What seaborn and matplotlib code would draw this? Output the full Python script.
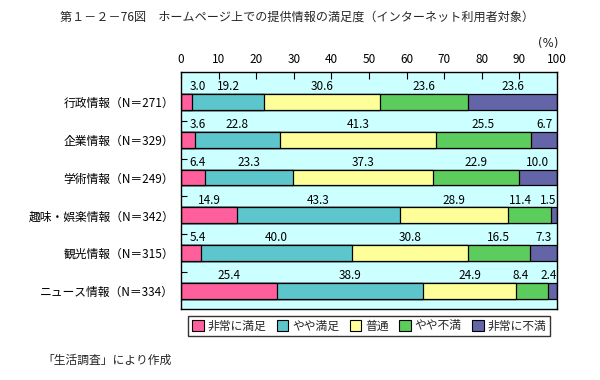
import numpy as np
import pandas as pd
import matplotlib
matplotlib.use("Agg")
import matplotlib.pyplot as plt
import seaborn as sns
from matplotlib.patches import Patch

sns.set_theme(style="white")
plt.rcParams['font.family'] = ['Noto Sans CJK JP', 'DejaVu Sans']

title = "第１－２－76図　ホームページ上での提供情報の満足度（インターネット利用者対象）"
categories = ["行政情報（N＝271）", "企業情報（N＝329）", "学術情報（N＝249）",
              "趣味・娯楽情報（N＝342）", "観光情報（N＝315）", "ニュース情報（N＝334）"]
series = ["非常に満足", "やや満足", "普通", "やや不満", "非常に不満"]
very_satisfied = [3.0, 3.6, 6.4, 14.9, 5.4, 25.4]
somewhat_satisfied = [19.2, 22.8, 23.3, 43.3, 40.0, 38.9]
neutral = [30.6, 41.3, 37.3, 28.9, 30.8, 24.9]
somewhat_dissatisfied = [23.6, 25.5, 22.9, 11.4, 16.5, 8.4]
very_dissatisfied = [23.6, 6.7, 10.0, 1.5, 7.3, 2.4]
x_ticks = [0, 10, 20, 30, 40, 50, 60, 70, 80, 90, 100]
footer = "「生活調査」により作成"

colors = ["#ff5f9c", "#5cc6cc", "#ffff99", "#5ccc5c", "#6464a8"]

values = np.array([very_satisfied, somewhat_satisfied, neutral,
                   somewhat_dissatisfied, very_dissatisfied])
cum = np.cumsum(values, axis=0)

fig = plt.figure(figsize=(6, 3.8), dpi=100)
ax = fig.add_axes([181 / 600, 1 - 309 / 380, 376 / 600, 237 / 380])
ax.set_facecolor("#ccffff")

# stacked bars: draw cumulative totals from largest to smallest
for k in range(len(series) - 1, -1, -1):
    df = pd.DataFrame({"cat": categories, "val": cum[k]})
    sns.barplot(data=df, x="val", y="cat", orient="h", color=colors[k],
                saturation=1, width=0.42, edgecolor="black", linewidth=0.9,
                ax=ax, zorder=2)

ax.set_xlim(0, 100)
ax.set_ylim(5.48, -0.79)
ax.set_xlabel("")
ax.set_ylabel("")

# x axis on top
ax.xaxis.set_ticks_position("top")
ax.xaxis.set_label_position("top")
ax.set_xticks(x_ticks)
ax.set_xticklabels([str(t) for t in x_ticks], fontsize=8.5, color="black")
ax.tick_params(axis="x", direction="in", length=5, width=0.8, color="black", pad=4, top=True, bottom=False)
ax.set_yticks(range(len(categories)))
ax.set_yticklabels(categories, fontsize=8.5, color="black")
ax.tick_params(axis="y", length=0, pad=5)
ax.set_yticks([i + 0.5 for i in range(len(categories) - 1)], minor=True)
ax.tick_params(axis="y", which="minor", direction="in", length=4, width=0.8, color="black", left=True)
for s in ax.spines.values():
    s.set_color("black")
    s.set_linewidth(1.0)

# value labels
gap = 7.5
for i in range(len(categories)):
    vals = values[:, i]
    left = np.concatenate([[0], cum[:-1, i]])
    pos = left + vals / 2
    pos = np.clip(pos, 4.5, 97.7)
    # resolve overlaps: push right from left, then left from right
    for j in range(1, len(pos)):
        if pos[j] - pos[j - 1] < gap:
            pos[j] = pos[j - 1] + gap
    pos[-1] = min(pos[-1], 97.7)
    for j in range(len(pos) - 2, -1, -1):
        if pos[j + 1] - pos[j] < gap:
            pos[j] = pos[j + 1] - gap
    for j in range(len(pos)):
        ax.text(pos[j], i - 0.40, f"{vals[j]:.1f}", ha="center", va="center",
                fontsize=8.5, color="black", zorder=3)

fig.text(60 / 600, 1 - 17 / 380, title, fontsize=8.7, ha="left", va="center")
fig.text(548 / 600, 1 - 44 / 380, "(%)", fontsize=8.5, ha="center", va="center",
         family=["DejaVu Sans"])
fig.text(42 / 600, 1 - 360 / 380, footer, fontsize=8.5, ha="left", va="center")

handles = [Patch(facecolor=c, edgecolor="black", linewidth=0.8) for c in colors]
leg = fig.legend(handles, series, loc="center", bbox_to_anchor=(369 / 600, 1 - 326 / 380),
                 ncol=5, fontsize=8.5, frameon=True, fancybox=False, edgecolor="black",
                 handlelength=1.0, handleheight=1.0, handletextpad=0.3, columnspacing=0.9,
                 borderpad=0.3, borderaxespad=0)
leg.get_frame().set_linewidth(1.0)

fig.savefig("out.png", dpi=100, facecolor="white")
